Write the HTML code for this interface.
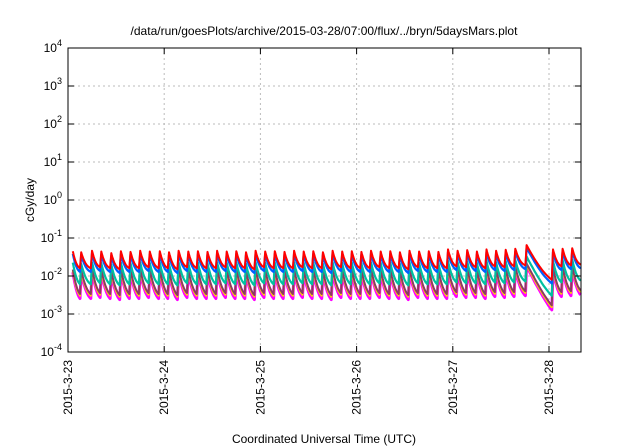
<!DOCTYPE html>
<html><head><meta charset="utf-8"><style>
body{margin:0;background:#fff}
svg{display:block;font-family:"Liberation Sans",sans-serif}
</style></head><body>
<svg id="chart" width="640" height="448">
<text x="324" y="35" text-anchor="middle" font-size="12">/data/run/goesPlots/archive/2015-03-28/07:00/flux/../bryn/5daysMars.plot</text>
<text transform="translate(34,200) rotate(-90)" text-anchor="middle" font-size="12">cGy/day</text>
<text x="324" y="443" text-anchor="middle" font-size="12">Coordinated Universal Time (UTC)</text>
<g id="grid"></g><g id="series"></g><g id="axes"></g>
</svg>
<script>
const dayLabels=["2015-3-23","2015-3-24","2015-3-25","2015-3-26","2015-3-27","2015-3-28"];
const yExps=[4,3,2,1,0,-1,-2,-3,-4];
const peakHours=[1.2,3.3,6.0,8.3,10.8,13.2,15.6,18.0,20.4,22.9,25.2,27.6,30.0,32.4,34.8,37.2,39.6,42.0,44.4,46.8,49.2,51.6,54.0,56.4,58.8,61.2,63.6,66.0,68.4,70.8,73.2,75.6,78.0,80.4,82.8,85.2,87.6,90.0,92.4,94.8,97.2,99.6,102.0,104.4,106.8,109.2,111.6,114.4,121.0,123.4,125.8,128.2];
const peakVals=[0.045,0.042,0.046,0.044,0.040,0.045,0.043,0.046,0.044,0.045,0.042,0.046,0.044,0.045,0.043,0.046,0.044,0.045,0.042,0.046,0.044,0.045,0.043,0.046,0.044,0.045,0.042,0.046,0.044,0.045,0.043,0.046,0.044,0.045,0.042,0.046,0.044,0.045,0.043,0.050,0.046,0.048,0.044,0.050,0.046,0.049,0.052,0.065,0.050,0.052,0.054,0.056];
const troughVals=[0.016,0.016,0.017,0.016,0.015,0.016,0.016,0.017,0.016,0.016,0.015,0.017,0.016,0.016,0.016,0.017,0.016,0.016,0.015,0.017,0.016,0.016,0.016,0.017,0.016,0.016,0.015,0.017,0.016,0.016,0.016,0.017,0.016,0.016,0.015,0.017,0.016,0.016,0.016,0.018,0.017,0.017,0.016,0.018,0.017,0.018,0.019,0.0080,0.018,0.019,0.020,0.020];
const seriesColors=["#ff00ff","#ffd700","#8b3a62","#00c0a0","#0060ff","#ff0000"];
const seriesPeakFactor=[0.28,0.30,0.33,0.50,0.85,1.0];
const seriesTroughFactor=[0.16,0.19,0.21,0.38,0.80,1.0];
const seriesWidth=[3,2,2,2.2,2.2,2];
const X0=68,X1=581,Y0=48,Y1=352,pxDay=96.2;
const xs=h=>X0+h/24*pxDay, ys=v=>Y1-(Math.log10(v)+4)*(Y1-Y0)/8;
const NS="http://www.w3.org/2000/svg";
function mk(t,a,p){const e=document.createElementNS(NS,t);for(const k in a)e.setAttribute(k,a[k]);p.appendChild(e);return e;}
const grid=document.getElementById('grid'),axes=document.getElementById('axes'),ser=document.getElementById('series');
yExps.forEach((e,i)=>{const y=ys(Math.pow(10,e));
 if(e<4&&e>-4){const l=mk('line',{x1:X0,x2:X1,y1:y,y2:y,stroke:'#bbb','stroke-dasharray':'2,3','stroke-width':1},grid);
 }
 mk('line',{x1:X0,x2:X0+6,y1:y,y2:y,stroke:'#000'},axes);mk('line',{x1:X1,x2:X1-6,y1:y,y2:y,stroke:'#000'},axes);
 const t=mk('text',{x:X0-6,y:y+4,'text-anchor':'end','font-size':12},axes);
 
 t.innerHTML='10<tspan dy="-6" font-size="9">'+e+'</tspan>';});
dayLabels.forEach((d,i)=>{const x=X0+i*pxDay;
 if(i>0){const l=mk('line',{x1:x,x2:x,y1:Y0,y2:Y1,stroke:'#bbb','stroke-dasharray':'2,3'},grid);
 }
 mk('line',{x1:x,x2:x,y1:Y1,y2:Y1-6,stroke:'#000'},axes);mk('line',{x1:x,x2:x,y1:Y0,y2:Y0+6,stroke:'#000'},axes);
 const t=mk('text',{transform:`translate(${x+4},${Y1+8}) rotate(-90)`,'text-anchor':'end','font-size':12},axes);
 t.textContent=d;});
const box=mk('rect',{x:X0,y:Y0,width:X1-X0,height:Y1-Y0,fill:'none',stroke:'#000','stroke-width':1},axes);

const E=Math.exp(-3);
seriesColors.forEach((c,s)=>{let pts=[];
 for(let i=0;i<peakHours.length;i++){const h0=peakHours[i],h1=i+1<peakHours.length?peakHours[i+1]-0.3:129;
  const p=peakVals[i]*seriesPeakFactor[s];const tr=troughVals[i]*seriesTroughFactor[s];
  for(let k=0;k<=16;k++){const sf=k/16;const h=h0+(h1-h0)*sf;if(h>128.3)break;
   const v=tr+(p-tr)*(Math.exp(-3*sf)-E)/(1-E);pts.push([xs(h),ys(v)]);}}
 pts=pts.filter(p=>p[0]<=X1);
 const pl=mk('polyline',{points:pts.map(p=>p[0].toFixed(1)+','+p[1].toFixed(1)).join(' '),fill:'none',stroke:c,'stroke-width':seriesWidth[s],'stroke-linejoin':'round'},ser);
 });
</script>
</body></html>
